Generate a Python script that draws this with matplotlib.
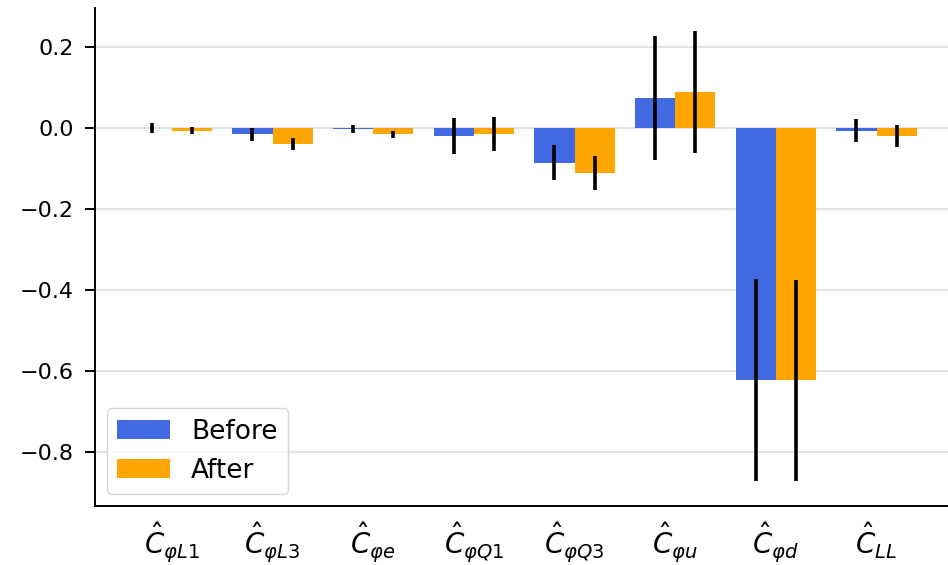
import numpy as np
import matplotlib.pyplot as plt

labels = [r'$\hat{C}_{\varphi L1}$', r'$\hat{C}_{\varphi L3}$', r'$\hat{C}_{\varphi e}$',
          r'$\hat{C}_{\varphi Q1}$', r'$\hat{C}_{\varphi Q3}$', r'$\hat{C}_{\varphi u}$',
          r'$\hat{C}_{\varphi d}$', r'$\hat{C}_{LL}$']

before = [0.0, -0.016, -0.003, -0.020, -0.086, 0.074, -0.622, -0.007]
before_err = [0.012, 0.016, 0.010, 0.044, 0.043, 0.152, 0.249, 0.028]
after = [-0.007, -0.040, -0.016, -0.016, -0.111, 0.088, -0.622, -0.020]
after_err = [0.009, 0.014, 0.009, 0.042, 0.043, 0.150, 0.248, 0.028]

x = np.arange(len(labels))
w = 0.4

fig = plt.figure(figsize=(9.48, 5.65), dpi=100)
ax = fig.add_axes([0.1, 0.104, 0.9, 0.882])

# paired bars with symmetric error bars, no caps
err_kw = dict(elinewidth=2.6, ecolor='black', capsize=0)
ax.bar(x - w / 2, before, w, yerr=before_err, color='royalblue', label='Before', error_kw=err_kw, zorder=2)
ax.bar(x + w / 2, after, w, yerr=after_err, color='orange', label='After', error_kw=err_kw, zorder=2)

ax.set_xticks(x)
ax.set_xticklabels(labels, fontsize=20)
ax.tick_params(axis='x', length=0, pad=10)
ax.tick_params(axis='y', labelsize=16, length=7, width=1.4, pad=8)
ax.set_yticks([-0.8, -0.6, -0.4, -0.2, 0.0, 0.2])
ax.set_xlim(-0.766, 7.71)
ax.set_ylim(-0.933, 0.296)
ax.yaxis.grid(True, color='#dedede', linewidth=1.2, zorder=0)
ax.set_axisbelow(True)
for s in ['top', 'right']:
    ax.spines[s].set_visible(False)
for s in ['left', 'bottom']:
    ax.spines[s].set_linewidth(1.4)

ax.legend(loc='lower left', fontsize=19, handlelength=2.0, borderaxespad=0.45)

fig.savefig('out.png', dpi=100)
